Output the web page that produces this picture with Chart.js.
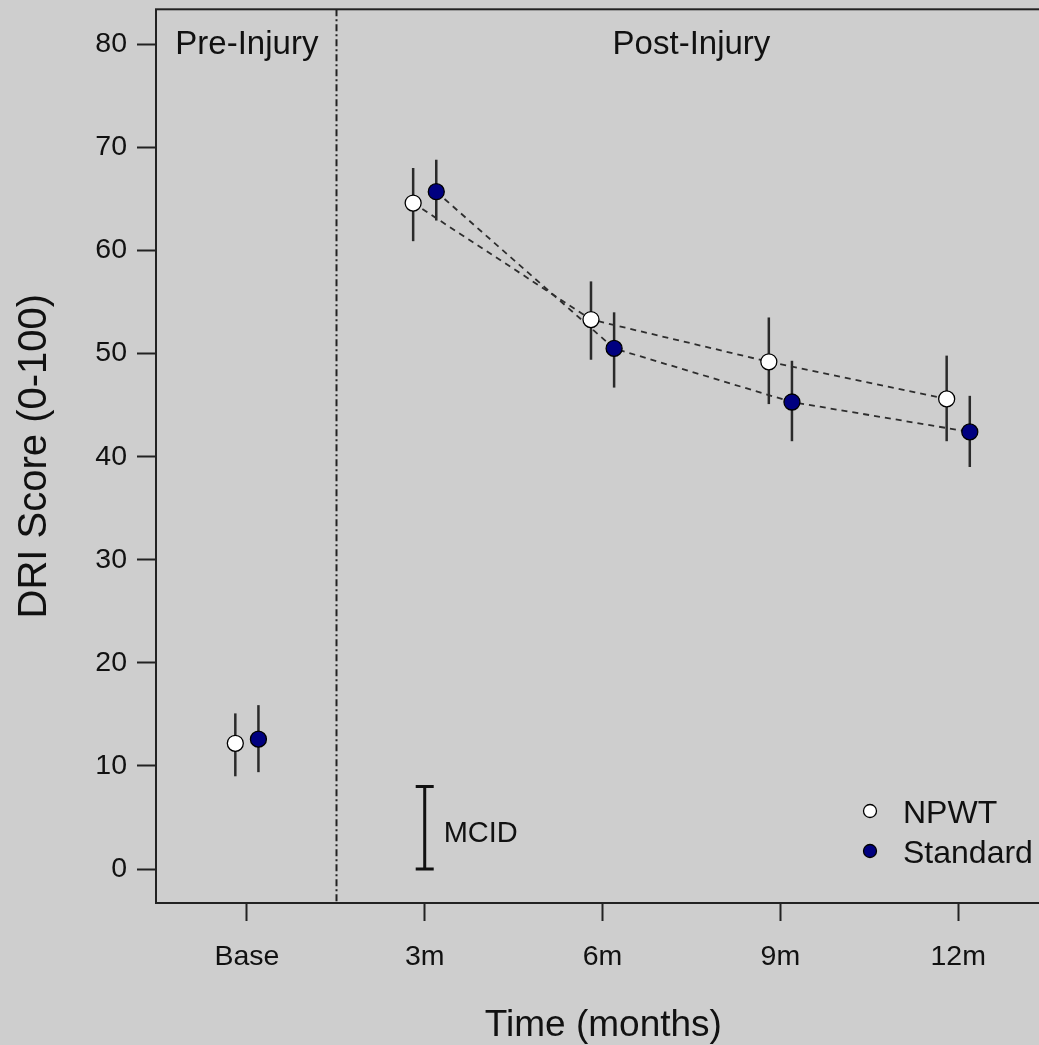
<!DOCTYPE html>
<html><head><meta charset="utf-8">
<script src="https://cdn.jsdelivr.net/npm/chart.js@4.4.1/dist/chart.umd.min.js"></script>
<style>
html,body{margin:0;padding:0;overflow:hidden;background:#cecece;width:1039px;height:1045px;}
#wrap{position:relative;width:1060px;height:1045px;}
canvas{display:block;}
</style></head><body>
<div id="wrap"><canvas id="c" width="1060" height="1045"></canvas></div>
<script>
// ---- data ----
const timeLabels = ['Base', '3m', '6m', '9m', '12m'];
const timeIndex = [0, 1, 2, 3, 4];
const yTicks = [0, 10, 20, 30, 40, 50, 60, 70, 80];
const seriesNames = ['NPWT', 'Standard'];
const npwtMean = [12.2, 64.6, 53.3, 49.2, 45.6];
const npwtLow  = [9.0, 60.9, 49.4, 45.1, 41.5];
const npwtHigh = [15.1, 68.0, 57.0, 53.5, 49.8];
const stdMean  = [12.6, 65.7, 50.5, 45.3, 42.4];
const stdLow   = [9.4, 62.9, 46.7, 41.5, 39.0];
const stdHigh  = [15.9, 68.8, 54.0, 49.3, 45.9];
const mcidRange = [0, 8];
const mcidLabel = 'MCID';
const phaseLabels = ['Pre-Injury', 'Post-Injury'];
const phaseCenters = [0, 2.5];
const phaseDivider = 0.5;
const xTitle = 'Time (months)';
const yTitle = 'DRI Score (0-100)';

// ---- styling ----
const FONT = '"Liberation Sans", Arial, sans-serif';
const INK = '#111111';
const groupOffset = 0.065;

function pts(mean, off, from) {
  return timeIndex.slice(from || 0).map((t) => ({ x: t + off, y: mean[t] }));
}

const overlay = {
  id: 'overlay',
  beforeDatasetsDraw(chart) {
    const { ctx, chartArea: a, scales: { x, y } } = chart;
    ctx.save();
    // divider line
    ctx.strokeStyle = '#222';
    ctx.lineWidth = 2;
    ctx.setLineDash([7, 3, 2, 3]);
    const dx = Math.round(x.getPixelForValue(phaseDivider)) + 0.5;
    ctx.beginPath(); ctx.moveTo(dx, a.top); ctx.lineTo(dx, a.bottom); ctx.stroke();
    ctx.setLineDash([]);
    // error bars
    chart.data.datasets.forEach((ds) => {
      if (!ds.lows) return;
      ctx.strokeStyle = '#2a2a2a';
      ctx.lineWidth = 2.5;
      ds.data.forEach((p, i) => {
        const px = x.getPixelForValue(p.x);
        ctx.beginPath();
        ctx.moveTo(px, y.getPixelForValue(ds.lows[i]));
        ctx.lineTo(px, y.getPixelForValue(ds.highs[i]));
        ctx.stroke();
      });
    });
    ctx.restore();
  },
  afterDatasetsDraw(chart) {
    const { ctx, chartArea: a, scales: { x, y } } = chart;
    ctx.save();
    // frame
    ctx.strokeStyle = '#222';
    ctx.lineWidth = 2;
    ctx.strokeRect(a.left, a.top, a.right - a.left, a.bottom - a.top);
    // phase labels
    ctx.fillStyle = INK;
    ctx.font = '33px ' + FONT;
    ctx.textAlign = 'center';
    ctx.textBaseline = 'alphabetic';
    phaseLabels.forEach((t, i) => ctx.fillText(t, x.getPixelForValue(phaseCenters[i]), a.top + 45));
    // MCID bar
    const mx = x.getPixelForValue(1);
    const y0 = y.getPixelForValue(mcidRange[0]);
    const y1 = y.getPixelForValue(mcidRange[1]);
    ctx.strokeStyle = '#111';
    ctx.lineWidth = 3;
    ctx.beginPath();
    ctx.moveTo(mx, y0); ctx.lineTo(mx, y1);
    ctx.moveTo(mx - 9, y0); ctx.lineTo(mx + 9, y0);
    ctx.moveTo(mx - 9, y1); ctx.lineTo(mx + 9, y1);
    ctx.stroke();
    ctx.font = '29px ' + FONT;
    ctx.textAlign = 'left';
    ctx.fillText(mcidLabel, mx + 19, (y0 + y1) / 2 + 14);
    // legend
    const lx = a.left + 714, tx = a.left + 747;
    const bases = [a.bottom - 80, a.bottom - 40];
    ctx.font = '32px ' + FONT;
    chart.data.datasets.slice(0, 2).forEach((ds, i) => {
      ctx.beginPath();
      ctx.arc(lx, bases[i] - 12, 6.5, 0, Math.PI * 2);
      ctx.fillStyle = ds.backgroundColor;
      ctx.fill();
      ctx.lineWidth = 1.3;
      ctx.strokeStyle = '#000';
      ctx.stroke();
      ctx.fillStyle = INK;
      ctx.fillText(ds.label, tx, bases[i]);
    });
    ctx.restore();
  }
};

const zeroPad = (s) => { s.paddingTop = 0; s.paddingBottom = 0; s.paddingLeft = 0; s.paddingRight = 0; };

new Chart(document.getElementById('c'), {
  type: 'scatter',
  data: {
    datasets: [
      { type: 'scatter', label: seriesNames[0], data: pts(npwtMean, -groupOffset),
        lows: npwtLow, highs: npwtHigh,
        backgroundColor: '#ffffff', borderColor: '#000', borderWidth: 1.3,
        pointRadius: 8, pointHoverRadius: 8, order: 0 },
      { type: 'scatter', label: seriesNames[1], data: pts(stdMean, groupOffset),
        lows: stdLow, highs: stdHigh,
        backgroundColor: '#000080', borderColor: '#000', borderWidth: 1.3,
        pointRadius: 8, pointHoverRadius: 8, order: 0 },
      { type: 'line', label: seriesNames[0] + ' trend', data: pts(npwtMean, -groupOffset, 1),
        borderColor: '#2e2e2e', borderWidth: 1.8, borderDash: [6, 5], pointRadius: 0,
        fill: false, tension: 0, showLine: true, order: 2 },
      { type: 'line', label: seriesNames[1] + ' trend', data: pts(stdMean, groupOffset, 1),
        borderColor: '#2e2e2e', borderWidth: 1.8, borderDash: [6, 5], pointRadius: 0,
        fill: false, tension: 0, showLine: true, order: 2 }
    ]
  },
  options: {
    responsive: false,
    animation: false,
    devicePixelRatio: 1,
    layout: { padding: { left: 0, top: 8, right: 8.4, bottom: 0 } },
    plugins: { legend: { display: false }, tooltip: { enabled: false } },
    scales: {
      x: {
        type: 'linear', min: -0.511, max: 4.52,
        afterBuildTicks: (s) => { s.ticks = timeIndex.map((v) => ({ value: v })); },
        afterFit: (s) => { s.height = 142; zeroPad(s); },
        border: { display: false },
        grid: { drawOnChartArea: false, drawTicks: true, tickLength: 18, color: '#222', tickColor: '#222', tickWidth: 2 },
        ticks: { callback: (v) => timeLabels[v], font: { family: FONT, size: 28.5 }, color: INK,
                 padding: 19, maxRotation: 0, autoSkip: false },
        title: { display: true, text: xTitle, font: { family: FONT, size: 37 }, color: INK,
                 padding: { top: 0, bottom: -3 } }
      },
      y: {
        type: 'linear', min: -3.29, max: 83.39,
        afterBuildTicks: (s) => { s.ticks = yTicks.map((v) => ({ value: v })); },
        afterFit: (s) => { s.width = 156; zeroPad(s); },
        border: { display: false },
        grid: { drawOnChartArea: false, drawTicks: true, tickLength: 19, color: '#222', tickColor: '#222', tickWidth: 2 },
        ticks: { font: { family: FONT, size: 28.5 }, color: INK, padding: 10, autoSkip: false },
        title: { display: true, text: yTitle, font: { family: FONT, size: 40 }, color: INK,
                 padding: { top: 11, bottom: 0 } }
      }
    }
  },
  plugins: [overlay]
});
</script>
</body></html>
